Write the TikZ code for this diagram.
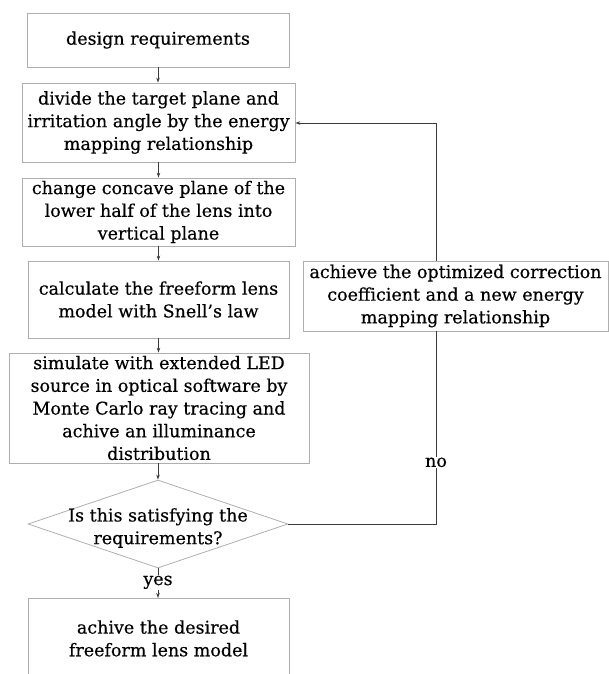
\documentclass[tikz,border=0pt]{standalone}
\usepackage{fontspec}
\setmainfont{DejaVu Serif}[FakeBold=0.4]
\usetikzlibrary{shapes.geometric,arrows.meta}
\definecolor{boxgray}{RGB}{175,175,175}
\definecolor{linegray}{RGB}{60,60,60}
\newcommand\fsz{\fontsize{17.5}{22.7}\selectfont}
\begin{document}
\begin{tikzpicture}[x=1pt,y=-1pt,
  box/.style={draw=boxgray, line width=0.8pt, rectangle, inner sep=0pt, align=center, font=\fsz},
  dia/.style={draw=boxgray, line width=0.8pt, diamond, inner sep=0pt},
  txt/.style={inner sep=1pt, align=center, font=\fsz},
  conn/.style={draw=linegray, line width=0.8pt},
  arr/.style={conn, -{Stealth[length=5pt,width=3.5pt]}}]
\useasboundingbox (0,0) rectangle (609,674);
\node[box, minimum width=262pt, minimum height=54pt] (b1) at (158,40) {design requirements};
\node[box, minimum width=273pt, minimum height=79pt] (b2) at (158.5,122.5) {divide the target plane and\\irritation angle by the energy\\mapping relationship};
\node[box, minimum width=273pt, minimum height=68pt] (b3) at (158.5,212) {change concave plane of the\\lower half of the lens into\\vertical plane};
\node[box, minimum width=261pt, minimum height=77pt] (b4) at (158.5,299.5) {calculate the freeform lens\\model with Snell's law};
\node[box, minimum width=300pt, minimum height=110pt] (b5) at (159,408) {simulate with extended LED\\source in optical software by\\Monte Carlo ray tracing and\\achive an illuminance\\distribution};
\node[dia, minimum width=260pt, minimum height=88pt] (d) at (158,524) {};
\node[txt] (dt) at (158,528) {Is this satisfying the\\requirements?};
\node[box, minimum width=261pt, minimum height=80pt, anchor=north] (b6) at (158.5,598) {achive the desired\\freeform lens model};
\node[box, minimum width=305pt, minimum height=70pt] (R) at (455.5,296) {achieve the optimized correction\\coefficient and a new energy\\mapping relationship};
\coordinate (c1) at (436,524);
\coordinate (c2) at (436,123);
\draw[arr] (b1.south) -- (b1.south |- b2.north);
\draw[arr] (b2.south) -- (b2.south |- b3.north);
\draw[arr] (b3.south) -- (b3.south |- b4.north);
\draw[arr] (b4.south) -- (b4.south |- b5.north);
\draw[arr] (b5.south -| d.north) -- (d.north);
\draw[arr] (d.south) -- node[txt, fill=white, pos=0.47] (yes) {yes} (d.south |- b6.north);
\draw[conn] (d.east) -- (c1) -- node[txt, fill=white, pos=0.32] (no) {no} (c1 |- R.south);
\draw[arr] (c2 |- R.north) -- (c2) -- (c2 -| b2.east);
\end{tikzpicture}
\end{document}
